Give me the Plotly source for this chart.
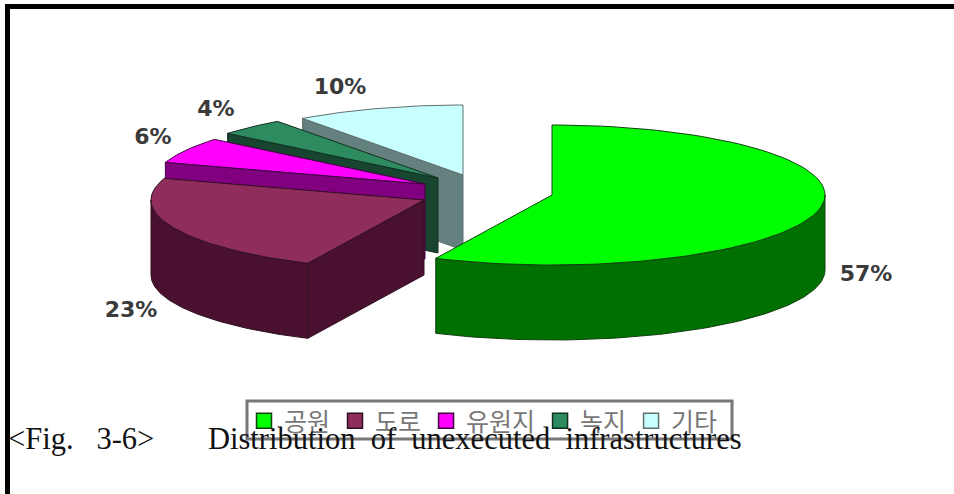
import numpy as np
import plotly.graph_objects as go

# Shares of unexecuted infrastructure, in percent
categories = ["공원", "도로", "유원지", "녹지", "기타"]
shares = [57, 23, 6, 4, 10]

# Face colours and the darker wall colours of each slice
top_colors = ["#00ff00", "#8f2d5c", "#ff00ff", "#2e8b5f", "#c8ffff"]
wall_colors = ["#007000", "#4a1030", "#800080", "#17452f", "#64807f"]
edge_colors = ["#104010", "#301020", "#400040", "#103020", "#607070"]

# Pie geometry on a pixel-sized plotting plane
CENTRE = (470, 190)
RX, RY, DEPTH = 273, 70, 75
SLICE_OFFSETS = [(82, 5), (-46, 10), (-45, -6), (-32, -12), (-7, -15)]
LABEL_ANCHORS = [(866, 275), (131, 311), (153, 138), (216, 110), (340, 88)]


def rim(apex, degrees):
    a = np.radians(degrees)
    return apex[0] + RX * np.sin(a), apex[1] - RY * np.cos(a)


def polygon(fig, xs, ys, fill, edge):
    fig.add_trace(go.Scatter(
        x=list(xs) + [xs[0]], y=list(ys) + [ys[0]], mode="lines", fill="toself",
        fillcolor=fill, line=dict(color=edge, width=1), hoverinfo="skip", showlegend=False,
    ))


fig = go.Figure()

# Legend keys come first so that the legend follows the category order
for name, color, edge in zip(categories, top_colors, edge_colors):
    fig.add_trace(go.Scatter(
        x=[None], y=[None], mode="markers", name=name,
        marker=dict(symbol="square", size=15, color=color, line=dict(color=edge, width=1.5)),
    ))

edges = np.cumsum([0] + shares) * 3.6
slices = list(range(len(shares)))

# Painter's order: rear slices first, the large front slice last
for i in reversed(slices):
    start, end = edges[i], edges[i + 1]
    apex = (CENTRE[0] + SLICE_OFFSETS[i][0], CENTRE[1] + SLICE_OFFSETS[i][1])

    # Radial wall seen on the clockwise-start side (left half of the pie only)
    if start > 180:
        px, py = rim(apex, start)
        polygon(fig, [apex[0], px, px, apex[0]], [apex[1], py, py + DEPTH, apex[1] + DEPTH],
                wall_colors[i], edge_colors[i])

    # Outer wall along the front half of the ellipse
    lo, hi = max(start, 90), min(end, 270)
    if hi > lo:
        t = np.linspace(lo, hi, 80)
        rx, ry = rim(apex, t)
        polygon(fig, np.r_[rx, rx[::-1]], np.r_[ry, ry[::-1] + DEPTH], wall_colors[i], edge_colors[i])

    # Top face
    t = np.linspace(start, end, 100)
    rx, ry = rim(apex, t)
    polygon(fig, np.r_[apex[0], rx], np.r_[apex[1], ry], top_colors[i], edge_colors[i])

# Percentage labels
fig.add_trace(go.Scatter(
    x=[p[0] for p in LABEL_ANCHORS], y=[p[1] for p in LABEL_ANCHORS],
    text=[f"{v}%" for v in shares], mode="text", textposition="middle center",
    textfont=dict(family="DejaVu Sans", size=22, color="#3a3a3a", weight="bold"),
    hoverinfo="skip", showlegend=False,
))

caption_font = dict(family="Liberation Serif", size=30.5, color="#111111")
annotations = [
    dict(text="&lt;Fig.&nbsp;&nbsp;&nbsp;3-6&gt;", x=6, y=439, xref="x", yref="y",
         xanchor="left", yanchor="middle", showarrow=False, font=caption_font),
    dict(text="Distribution&nbsp;&nbsp;of&nbsp;&nbsp;unexecuted&nbsp;&nbsp;infrastructures",
         x=206, y=439, xref="x", yref="y",
         xanchor="left", yanchor="middle", showarrow=False, font=caption_font),
]

# Heavy rule along the top and left of the page, and the frame around the legend
shapes = [
    dict(type="line", xref="x", yref="y", x0=5, x1=954, y0=6.5, y1=6.5, line=dict(color="black", width=5)),
    dict(type="line", xref="x", yref="y", x0=7.5, x1=7.5, y0=4, y1=494, line=dict(color="black", width=5)),
    dict(type="rect", xref="x", yref="y", x0=247, x1=732, y0=401, y1=439,
         line=dict(color="#777777", width=3), layer="below"),
]

fig.update_layout(
    width=954, height=494, margin=dict(l=0, r=0, t=0, b=0),
    paper_bgcolor="white", plot_bgcolor="white",
    xaxis=dict(range=[0, 954], visible=False, fixedrange=True),
    yaxis=dict(range=[494, 0], visible=False, fixedrange=True),
    annotations=annotations, shapes=shapes,
    legend=dict(
        orientation="h", x=244 / 954, y=1 - 398 / 494, xanchor="left", yanchor="top",
        bgcolor="rgba(0,0,0,0)", borderwidth=0, traceorder="normal",
        font=dict(family="Noto Sans CJK KR", size=25, color="#777777"),
    ),
)

fig.write_html("out.html")
